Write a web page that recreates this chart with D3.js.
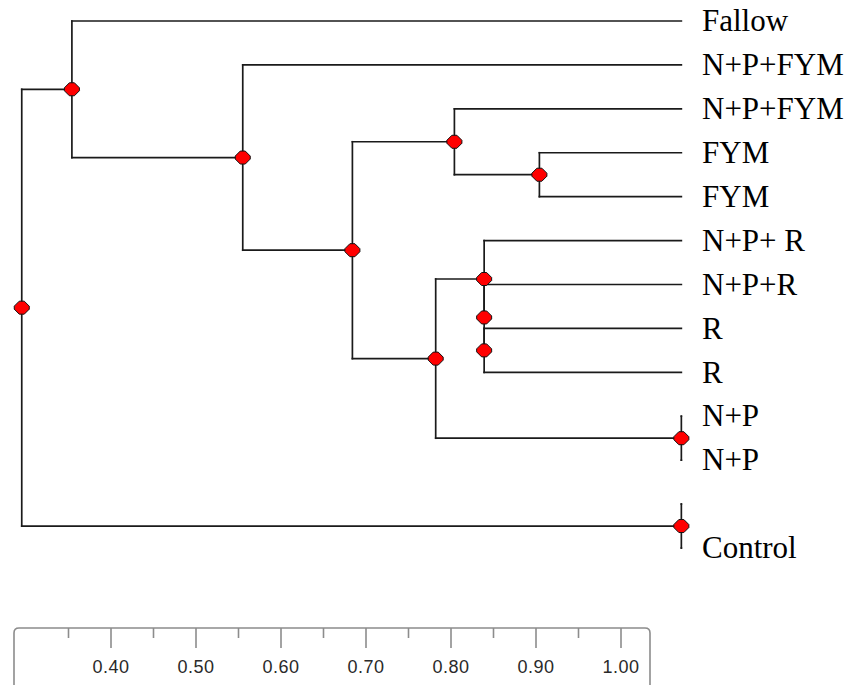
<!DOCTYPE html>
<html>
<head>
<meta charset="utf-8">
<script src="https://cdn.jsdelivr.net/npm/d3@7"></script>
<style>
  html, body { margin: 0; padding: 0; background: #fff; }
  svg { display: block; }
</style>
</head>
<body>
<div id="chart"></div>
<script>
// --------------- Data ---------------
// leaf labels, top to bottom (one Control leaf has no label in the figure)
const leafNames = [
  "Fallow", "N+P+FYM", "N+P+FYM", "FYM", "FYM",
  "N+P+ R", "N+P+R", "R", "R", "N+P", "N+P", "", "Control",
];
const leafSim = 1.071;
// linkage: [child a, child b, similarity]; new node ids start after the leaves
const merges = [
  [7, 8, 0.839],
  [6, 13, 0.839],
  [5, 14, 0.839],
  [9, 10, 1.071],
  [15, 16, 0.782],
  [3, 4, 0.904],
  [2, 18, 0.804],
  [19, 17, 0.684],
  [1, 20, 0.555],
  [0, 21, 0.354],
  [11, 12, 1.071],
  [22, 23, 0.295],
];
const majorTicks = [0.4, 0.5, 0.6, 0.7, 0.8, 0.9, 1.0];
const minorTicks = [0.35, 0.45, 0.55, 0.65, 0.75, 0.85, 0.95];

// --------------- Constants ---------------
const WIDTH = 854;
const HEIGHT = 685;
const LINE_COLOR = "#1a1a1a";
const AXIS_COLOR = "#8c8c8c";

const svg = d3
  .select("#chart")
  .append("svg")
  .attr("width", WIDTH)
  .attr("height", HEIGHT);

const x = d3.scaleLinear().domain([0.4, 1.0]).range([111, 621]);
const y = d3
  .scalePoint()
  .domain(d3.range(leafNames.length))
  .range([21, 548]);

// build node positions from the linkage list
const nodes = leafNames.map((name, i) => ({ id: i, name, sim: leafSim, y: y(i) }));
merges.forEach(([a, b, sim]) => {
  const na = nodes[a];
  const nb = nodes[b];
  nodes.push({ id: nodes.length, a: na, b: nb, sim, y: (na.y + nb.y) / 2 });
});
const inner = nodes.slice(leafNames.length);

// --------------- Tree ---------------
const tree = svg.append("g");

// vertical joins
tree
  .selectAll("line.join")
  .data(inner)
  .enter()
  .append("line")
  .attr("class", "join")
  .attr("x1", (d) => x(d.sim))
  .attr("x2", (d) => x(d.sim))
  .attr("y1", (d) => d.a.y)
  .attr("y2", (d) => d.b.y);

// horizontal branches from each join to its children
const branches = inner.flatMap((d) => [
  { from: d, to: d.a },
  { from: d, to: d.b },
]);
tree
  .selectAll("line.branch")
  .data(branches)
  .enter()
  .append("line")
  .attr("class", "branch")
  .attr("x1", (d) => x(d.from.sim))
  .attr("x2", (d) => x(d.to.sim))
  .attr("y1", (d) => d.to.y)
  .attr("y2", (d) => d.to.y);

tree
  .selectAll("line")
  .attr("stroke", LINE_COLOR)
  .attr("stroke-width", 1.7)
  .attr("stroke-linecap", "square");

// red node markers
const marker = "M-7.5,-1.5L-2.5,-6.5L2.5,-6.5L7.5,-1.5L7.5,1.5L2.5,6.5L-2.5,6.5L-7.5,1.5Z";
tree
  .selectAll("path.node")
  .data(inner)
  .enter()
  .append("path")
  .attr("class", "node")
  .attr("d", marker)
  .attr("transform", (d) => `translate(${x(d.sim)},${d.y})`)
  .attr("fill", "#ff0000")
  .attr("stroke", "#111")
  .attr("stroke-width", 1);

// leaf labels
svg
  .append("g")
  .selectAll("text")
  .data(nodes.slice(0, leafNames.length))
  .enter()
  .append("text")
  .attr("x", 702)
  .attr("y", (d) => d.y)
  .attr("dy", "0.33em")
  .attr("font-family", "'Liberation Serif', 'Times New Roman', serif")
  .attr("font-size", 31)
  .attr("fill", "#000")
  .text((d) => d.name);

// --------------- Scale box ---------------
const axisTop = 628;
const axisG = svg.append("g");
const boxL = 14;
const boxR = 650;
const r = 5;
axisG
  .append("path")
  .attr(
    "d",
    `M${boxL},${HEIGHT + 2}L${boxL},${axisTop + r}Q${boxL},${axisTop} ${boxL + r},${axisTop}` +
      `L${boxR - r},${axisTop}Q${boxR},${axisTop} ${boxR},${axisTop + r}L${boxR},${HEIGHT + 2}`
  )
  .attr("fill", "none")
  .attr("stroke", AXIS_COLOR)
  .attr("stroke-width", 1.6);

axisG
  .selectAll("line.major")
  .data(majorTicks)
  .enter()
  .append("line")
  .attr("x1", (d) => x(d))
  .attr("x2", (d) => x(d))
  .attr("y1", axisTop)
  .attr("y2", axisTop + 20)
  .attr("stroke", AXIS_COLOR)
  .attr("stroke-width", 1.6);

axisG
  .selectAll("line.minor")
  .data(minorTicks)
  .enter()
  .append("line")
  .attr("x1", (d) => x(d))
  .attr("x2", (d) => x(d))
  .attr("y1", axisTop)
  .attr("y2", axisTop + 10)
  .attr("stroke", AXIS_COLOR)
  .attr("stroke-width", 1.6);

axisG
  .selectAll("text")
  .data(majorTicks)
  .enter()
  .append("text")
  .attr("x", (d) => x(d))
  .attr("y", 673)
  .attr("text-anchor", "middle")
  .attr("font-family", "'Liberation Sans', Arial, sans-serif")
  .attr("font-size", 18)
  .attr("letter-spacing", 0.5)
  .attr("fill", "#2a2a2a")
  .text((d) => d3.format(".2f")(d));
</script>
</body>
</html>
